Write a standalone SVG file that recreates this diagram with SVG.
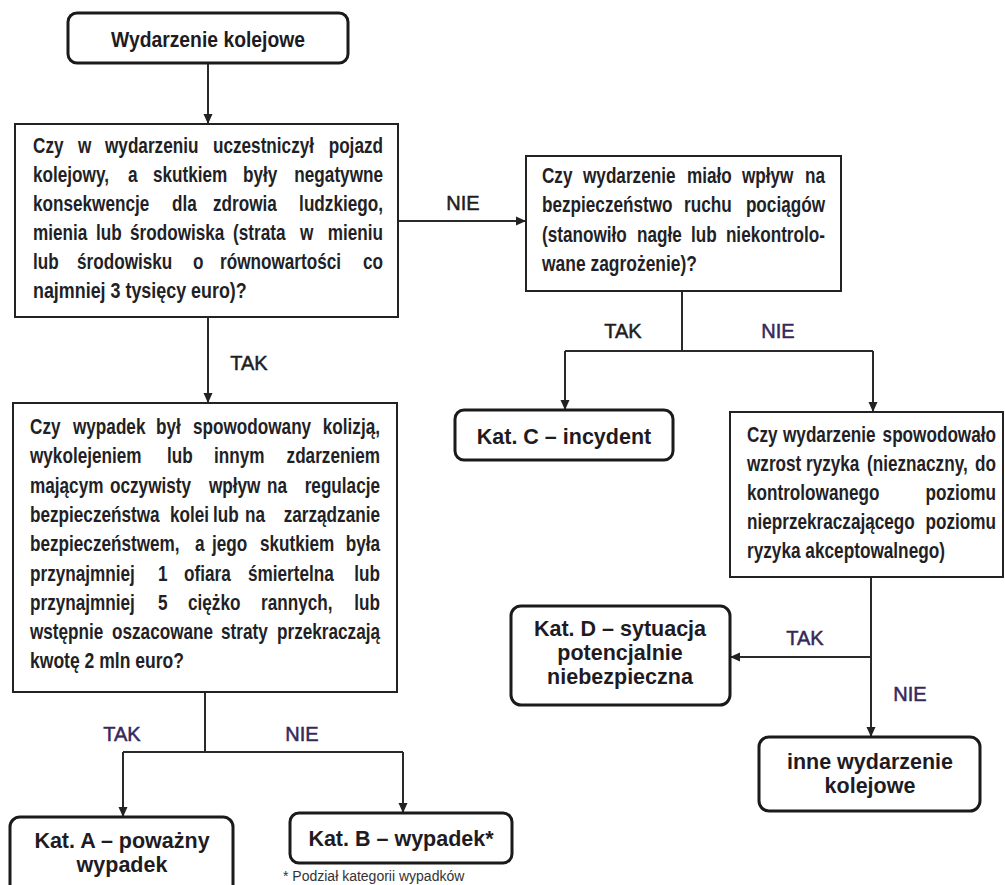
<svg xmlns="http://www.w3.org/2000/svg" width="1005" height="885" viewBox="0 0 1005 885">
<style>
.box{fill:#fff;stroke:#222;stroke-width:2}
.rbox{fill:#fff;stroke:#1a1a1a;stroke-width:3}
.q{font-family:"Liberation Sans",Arial,sans-serif;font-weight:bold;font-size:22px;fill:#231f26}
.k{font-family:"Liberation Sans",Arial,sans-serif;font-weight:bold;font-size:21.5px;fill:#1e1b22;text-anchor:middle}
.lbl{font-family:"Liberation Sans",Arial,sans-serif;font-size:20px;fill:#1e1e1e;stroke:#1e1e1e;stroke-width:0.5;text-anchor:middle}
.lblp{fill:#36295a;stroke:#36295a}
.con{fill:none;stroke:#2a2a2a;stroke-width:2}
.fn{font-family:"Liberation Sans",Arial,sans-serif;font-size:14px;fill:#333}
</style>
<defs>
<marker id="ah" viewBox="0 0 10 10" refX="10" refY="5" markerWidth="10" markerHeight="10" markerUnits="userSpaceOnUse" orient="auto">
<path d="M0,0.5 L10,5 L0,9.5 z" fill="#222"/>
</marker>
</defs>
<rect width="1005" height="885" fill="#fff"/>

<g id="connectors">
<line class="con" x1="208" y1="63" x2="208" y2="124" marker-end="url(#ah)"/>
<line class="con" x1="398" y1="221" x2="526" y2="221" marker-end="url(#ah)"/>
<line class="con" x1="208" y1="317" x2="208" y2="403" marker-end="url(#ah)"/>
<line class="con" x1="682" y1="291" x2="682" y2="351"/>
<line class="con" x1="565" y1="351" x2="873" y2="351"/>
<line class="con" x1="565" y1="351" x2="565" y2="410" marker-end="url(#ah)"/>
<line class="con" x1="873" y1="351" x2="873" y2="412" marker-end="url(#ah)"/>
<line class="con" x1="871" y1="577" x2="871" y2="737" marker-end="url(#ah)"/>
<line class="con" x1="871" y1="657" x2="730" y2="657" marker-end="url(#ah)"/>
<line class="con" x1="205" y1="692" x2="205" y2="752"/>
<line class="con" x1="123" y1="752" x2="403" y2="752"/>
<line class="con" x1="123" y1="752" x2="123" y2="817" marker-end="url(#ah)"/>
<line class="con" x1="403" y1="752" x2="403" y2="813" marker-end="url(#ah)"/>
<text class="lbl" x="463" y="210">NIE</text>
<text class="lbl" x="249" y="370">TAK</text>
<text class="lbl" x="623" y="338">TAK</text>
<text class="lbl lblp" x="778" y="338">NIE</text>
<text class="lbl lblp" x="805" y="645">TAK</text>
<text class="lbl lblp" x="910" y="701">NIE</text>
<text class="lbl lblp" x="122" y="741">TAK</text>
<text class="lbl lblp" x="302" y="741">NIE</text>
</g>

<g id="start">
<rect class="rbox" x="68" y="13" width="280" height="50" rx="9"/>
<text class="k" x="208" y="47" textLength="194" lengthAdjust="spacingAndGlyphs">Wydarzenie kolejowe</text>
</g>

<g id="q1">
<rect class="box" x="15" y="124" width="383" height="193"/>
<g transform="scale(0.78 1)">
<text class="q" y="153"><tspan x="42.31">Czy</tspan> <tspan x="100">w</tspan> <tspan x="134.62">wydarzeniu</tspan> <tspan x="273.08">uczestniczył</tspan> <tspan x="491.03" text-anchor="end">pojazd</tspan></text>
<text class="q" y="182"><tspan x="42.31">kolejowy,</tspan> <tspan x="164.10">a</tspan> <tspan x="196.15">skutkiem</tspan> <tspan x="311.54">były</tspan> <tspan x="491.03" text-anchor="end">negatywne</tspan></text>
<text class="q" y="211"><tspan x="42.31">konsekwencje</tspan> <tspan x="220.51">dla</tspan> <tspan x="273.08">zdrowia</tspan> <tspan x="491.03" text-anchor="end">ludzkiego,</tspan></text>
<text class="q" y="240"><tspan x="42.31">mienia</tspan> <tspan x="123.08">lub</tspan> <tspan x="166.67">środowiska</tspan> <tspan x="298.72">(strata</tspan> <tspan x="384.62">w</tspan> <tspan x="491.03" text-anchor="end">mieniu</tspan></text>
<text class="q" y="269"><tspan x="42.31">lub</tspan> <tspan x="98.72">środowisku</tspan> <tspan x="247.44">o</tspan> <tspan x="282.05">równowartości</tspan> <tspan x="491.03" text-anchor="end">co</tspan></text>
<text class="q" x="42.31" y="298" textLength="274" lengthAdjust="spacingAndGlyphs">najmniej 3 tysięcy euro)?</text>
</g>
</g>

<g id="q2">
<rect class="box" x="526" y="156" width="315" height="135"/>
<g transform="scale(0.78 1)">
<text class="q" y="183"><tspan x="694.87">Czy</tspan> <tspan x="747.44">wydarzenie</tspan> <tspan x="880.77">miało</tspan> <tspan x="951.28">wpływ</tspan> <tspan x="1057.69" text-anchor="end">na</tspan></text>
<text class="q" y="212.5"><tspan x="694.87">bezpieczeństwo</tspan> <tspan x="876.92">ruchu</tspan> <tspan x="1057.69" text-anchor="end">pociągów</tspan></text>
<text class="q" y="242"><tspan x="694.87">(stanowiło</tspan> <tspan x="816.67">nagłe</tspan> <tspan x="885.90">lub</tspan> <tspan x="1057.69" text-anchor="end">niekontrolo-</tspan></text>
<text class="q" x="694.87" y="271.5" textLength="198.7" lengthAdjust="spacingAndGlyphs">wane zagrożenie)?</text>
</g>
</g>

<g id="q3">
<rect class="box" x="13" y="403" width="384" height="289"/>
<g transform="scale(0.78 1)">
<text class="q" y="434"><tspan x="38.46">Czy</tspan> <tspan x="93.59">wypadek</tspan> <tspan x="200">był</tspan> <tspan x="247.44">spowodowany</tspan> <tspan x="487.18" text-anchor="end">kolizją,</tspan></text>
<text class="q" y="463"><tspan x="38.46">wykolejeniem</tspan> <tspan x="214.10">lub</tspan> <tspan x="274.36">innym</tspan> <tspan x="487.18" text-anchor="end">zdarzeniem</tspan></text>
<text class="q" y="493"><tspan x="38.46">mającym</tspan> <tspan x="141.03">oczywisty</tspan> <tspan x="267.95">wpływ</tspan> <tspan x="342.31">na</tspan> <tspan x="487.18" text-anchor="end">regulacje</tspan></text>
<text class="q" y="522"><tspan x="38.46">bezpieczeństwa</tspan> <tspan x="217.95">kolei</tspan> <tspan x="273.08">lub</tspan> <tspan x="314.10">na</tspan> <tspan x="487.18" text-anchor="end">zarządzanie</tspan></text>
<text class="q" y="551"><tspan x="38.46">bezpieczeństwem,</tspan> <tspan x="250">a</tspan> <tspan x="271.79">jego</tspan> <tspan x="333.33">skutkiem</tspan> <tspan x="487.18" text-anchor="end">była</tspan></text>
<text class="q" y="581"><tspan x="38.46">przynajmniej</tspan> <tspan x="202.56">1</tspan> <tspan x="235.90">ofiara</tspan> <tspan x="317.95">śmiertelna</tspan> <tspan x="487.18" text-anchor="end">lub</tspan></text>
<text class="q" y="610"><tspan x="38.46">przynajmniej</tspan> <tspan x="202.56">5</tspan> <tspan x="241.03">ciężko</tspan> <tspan x="334.62">rannych,</tspan> <tspan x="487.18" text-anchor="end">lub</tspan></text>
<text class="q" y="639"><tspan x="38.46">wstępnie</tspan> <tspan x="143.59">oszacowane</tspan> <tspan x="283.33">straty</tspan> <tspan x="487.18" text-anchor="end">przekraczają</tspan></text>
<text class="q" x="38.46" y="668" textLength="197.4" lengthAdjust="spacingAndGlyphs">kwotę 2 mln euro?</text>
</g>
</g>

<g id="q4">
<rect class="box" x="730" y="412" width="273" height="165"/>
<g transform="scale(0.78 1)">
<text class="q" y="442"><tspan x="957.69">Czy</tspan> <tspan x="1003.85">wydarzenie</tspan> <tspan x="1276.92" text-anchor="end">spowodowało</tspan></text>
<text class="q" y="471"><tspan x="957.69">wzrost</tspan> <tspan x="1033.33">ryzyka</tspan> <tspan x="1111.54">(nieznaczny,</tspan> <tspan x="1276.92" text-anchor="end">do</tspan></text>
<text class="q" y="500"><tspan x="957.69">kontrolowanego</tspan> <tspan x="1276.92" text-anchor="end">poziomu</tspan></text>
<text class="q" y="529"><tspan x="957.69">nieprzekraczającego</tspan> <tspan x="1276.92" text-anchor="end">poziomu</tspan></text>
<text class="q" x="957.69" y="558" textLength="253.8" lengthAdjust="spacingAndGlyphs">ryzyka akceptowalnego)</text>
</g>
</g>

<g id="katC">
<rect class="rbox" x="455" y="410" width="218" height="50" rx="9"/>
<text class="k" x="564" y="444">Kat. C – incydent</text>
</g>

<g id="katD">
<rect class="rbox" x="511" y="606" width="219" height="99" rx="10"/>
<text class="k" x="620" y="636">Kat. D – sytuacja</text>
<text class="k" x="620" y="660">potencjalnie</text>
<text class="k" x="620" y="684">niebezpieczna</text>
</g>

<g id="inne">
<rect class="rbox" x="759" y="737" width="221" height="74" rx="10"/>
<text class="k" x="870" y="769">inne wydarzenie</text>
<text class="k" x="870" y="793">kolejowe</text>
</g>

<g id="katA">
<rect class="rbox" x="10" y="817" width="223" height="80" rx="10"/>
<text class="k" x="122" y="848">Kat. A – poważny</text>
<text class="k" x="122" y="872">wypadek</text>
</g>

<g id="katB">
<rect class="rbox" x="290" y="813" width="222" height="50" rx="9"/>
<text class="k" x="401" y="846">Kat. B – wypadek*</text>
</g>

<text class="fn" x="283" y="881">* Podział kategorii wypadków</text>
</svg>
